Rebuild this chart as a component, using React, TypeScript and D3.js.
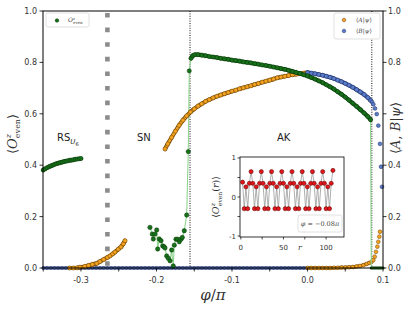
import React from "react";
import * as d3 from "d3";

type P = [number, number];

// ---- main panel data: [phi/pi, value] ----
const greenRS: P[] = [
  [-0.35, 0.381], [-0.3475, 0.386], [-0.345, 0.39], [-0.3425, 0.394], [-0.34, 0.397], [-0.3375, 0.4],
  [-0.335, 0.403], [-0.3325, 0.406], [-0.33, 0.408], [-0.3275, 0.41], [-0.325, 0.412], [-0.3225, 0.414],
  [-0.32, 0.416], [-0.3175, 0.417], [-0.315, 0.419], [-0.3125, 0.42], [-0.31, 0.421], [-0.3075, 0.423],
  [-0.305, 0.424], [-0.3025, 0.425], [-0.3, 0.426],
];
const greenSN: P[] = [
  [-0.2086, 0.158], [-0.2056, 0.132], [-0.2042, 0.113], [-0.202, 0.132], [-0.1997, 0.148], [-0.1984, 0.074],
  [-0.1963, 0.113], [-0.194, 0.106], [-0.1918, 0.086], [-0.19, 0.083], [-0.1887, 0.078], [-0.1865, 0.047],
  [-0.1844, 0.038], [-0.1821, 0.028], [-0.1799, 0.07], [-0.1778, 0.008], [-0.1764, 0.089], [-0.1742, 0.112],
  [-0.172, 0.112], [-0.1698, 0.102], [-0.1675, 0.112], [-0.1658, 0.119], [-0.1632, 0.145], [-0.16, 0.206],
  [-0.1579, 0.453],
];
const greenAK: P[] = [
  [-0.1566, 0.767], [-0.1543, 0.816], [-0.152, 0.826], [-0.149, 0.83], [-0.145, 0.83], [-0.14, 0.828],
  [-0.135, 0.826], [-0.13, 0.823], [-0.125, 0.821], [-0.12, 0.819], [-0.115, 0.816], [-0.11, 0.814],
  [-0.105, 0.812], [-0.1, 0.809], [-0.095, 0.807], [-0.09, 0.805], [-0.085, 0.802], [-0.08, 0.8],
  [-0.075, 0.798], [-0.07, 0.795], [-0.065, 0.793], [-0.06, 0.79], [-0.055, 0.788], [-0.05, 0.785],
  [-0.045, 0.782], [-0.04, 0.779], [-0.035, 0.776], [-0.03, 0.773], [-0.025, 0.769], [-0.02, 0.765],
  [-0.015, 0.761], [-0.01, 0.757], [-0.005, 0.752], [0.0, 0.747], [0.005, 0.741], [0.01, 0.735],
  [0.015, 0.728], [0.02, 0.721], [0.025, 0.713], [0.03, 0.705], [0.035, 0.696], [0.04, 0.686],
  [0.045, 0.676], [0.05, 0.665], [0.055, 0.653], [0.06, 0.641], [0.065, 0.629], [0.07, 0.616],
  [0.075, 0.603], [0.08, 0.589], [0.0835, 0.577],
];
const greenTail: P[] = [
  [0.0845, 0.0], [0.0875, 0.0], [0.09, 0.0], [0.0925, 0.0], [0.095, 0.0], [0.0975, 0.0], [0.1, 0.0],
];

const orangeRS: P[] = [
  [-0.315, 0.0], [-0.31, 0.0], [-0.305, 0.001], [-0.3013, 0.003], [-0.295, 0.006], [-0.29, 0.01],
  [-0.285, 0.014], [-0.279, 0.018], [-0.275, 0.025], [-0.27, 0.033], [-0.265, 0.041], [-0.2616, 0.047],
  [-0.258, 0.055], [-0.255, 0.062], [-0.2506, 0.073], [-0.247, 0.082], [-0.244, 0.094], [-0.2417, 0.106],
];
const orangeAK: P[] = [
  [-0.1887, 0.463], [-0.185, 0.483], [-0.18, 0.508], [-0.175, 0.532], [-0.17, 0.555], [-0.165, 0.575],
  [-0.16, 0.592], [-0.155, 0.607], [-0.15, 0.619], [-0.145, 0.63], [-0.14, 0.639], [-0.135, 0.648],
  [-0.13, 0.655], [-0.125, 0.662], [-0.12, 0.668], [-0.115, 0.673], [-0.11, 0.678], [-0.105, 0.683],
  [-0.1, 0.688], [-0.095, 0.692], [-0.09, 0.697], [-0.085, 0.701], [-0.08, 0.705], [-0.075, 0.709],
  [-0.07, 0.714], [-0.065, 0.718], [-0.06, 0.723], [-0.055, 0.727], [-0.05, 0.731], [-0.045, 0.735],
  [-0.04, 0.74], [-0.035, 0.743], [-0.03, 0.746], [-0.025, 0.749], [-0.02, 0.752], [-0.015, 0.754],
  [-0.01, 0.756], [-0.005, 0.758], [0.0, 0.76],
];
const orangeTail: P[] = [
  [0.0, 0.0], [0.005, 0.0], [0.01, 0.0], [0.015, 0.0], [0.02, 0.0], [0.025, 0.0], [0.03, 0.0],
  [0.035, 0.001], [0.04, 0.001], [0.045, 0.002], [0.05, 0.002], [0.055, 0.003], [0.06, 0.004],
  [0.065, 0.006], [0.0695, 0.008], [0.074, 0.011], [0.0784, 0.016], [0.082, 0.02], [0.085, 0.025],
  [0.0872, 0.031], [0.089, 0.044], [0.0907, 0.063], [0.0925, 0.083], [0.0938, 0.102], [0.0951, 0.122],
  [0.096, 0.141],
];

const blueZero: P[] = [
  [-0.35, 0], [-0.345, 0], [-0.34, 0], [-0.335, 0], [-0.33, 0], [-0.325, 0], [-0.32, 0], [-0.315, 0],
  [-0.31, 0], [-0.305, 0], [-0.3, 0], [-0.295, 0], [-0.29, 0], [-0.285, 0], [-0.28, 0], [-0.275, 0],
  [-0.27, 0], [-0.265, 0], [-0.26, 0], [-0.255, 0], [-0.25, 0], [-0.245, 0], [-0.24, 0], [-0.235, 0],
  [-0.23, 0], [-0.225, 0], [-0.22, 0], [-0.215, 0], [-0.21, 0], [-0.205, 0], [-0.2, 0], [-0.195, 0],
  [-0.19, 0], [-0.185, 0], [-0.18, 0], [-0.175, 0], [-0.17, 0], [-0.165, 0], [-0.16, 0], [-0.155, 0],
  [-0.15, 0], [-0.145, 0], [-0.14, 0], [-0.135, 0], [-0.13, 0], [-0.125, 0], [-0.12, 0], [-0.115, 0],
  [-0.11, 0], [-0.105, 0], [-0.1, 0], [-0.095, 0], [-0.09, 0], [-0.085, 0], [-0.08, 0], [-0.075, 0],
  [-0.07, 0], [-0.065, 0], [-0.06, 0], [-0.055, 0], [-0.05, 0], [-0.045, 0], [-0.04, 0], [-0.035, 0],
  [-0.03, 0], [-0.025, 0], [-0.02, 0], [-0.015, 0], [-0.01, 0], [-0.005, 0], [0.0, 0],
];
const blueAK: P[] = [
  [0.0, 0.76], [0.005, 0.758], [0.01, 0.756], [0.015, 0.753], [0.02, 0.75], [0.025, 0.746],
  [0.03, 0.742], [0.035, 0.737], [0.04, 0.731], [0.045, 0.725], [0.05, 0.718], [0.055, 0.711],
  [0.06, 0.703], [0.065, 0.694], [0.07, 0.685], [0.075, 0.675], [0.08, 0.663], [0.0835, 0.652],
];
const blueTail: P[] = [
  [0.0855, 0.646], [0.0872, 0.637], [0.0894, 0.621], [0.0917, 0.599], [0.0938, 0.554], [0.096, 0.483],
  [0.0974, 0.394], [0.0987, 0.316],
];

// phase boundaries (phi/pi)
const dashedBoundary = -0.265;
const dottedBoundaries = [-0.1556, 0.0852];

// axis ticks
const xTicks = [-0.35, -0.3, -0.25, -0.2, -0.15, -0.1, -0.05, 0.0, 0.05, 0.1];
const xTickLabels = ["-0.3", "-0.2", "-0.1", "0.0", "0.1"];
const xLabelValues = [-0.3, -0.2, -0.1, 0.0, 0.1];
const yTicks = [0, 0.2, 0.4, 0.6, 0.8, 1.0];
const yTickLabels = ["0.0", "0.2", "0.4", "0.6", "0.8", "1.0"];
const yRightTickLabels = ["0.0", "0.2", "0.4", "", "0.8", "1.0"];

// ---- inset data ----
const insetR = [
  2, 4, 6, 8, 10, 12, 14, 16, 18, 20, 22, 24, 26, 28, 30, 32, 34, 36, 38, 40, 42, 44, 46, 48, 50, 52, 54,
  56, 58, 60, 62, 64, 66, 68, 70, 72, 74, 76, 78, 80, 82, 84, 86, 88, 90, 92, 94, 96, 98, 100, 102, 104, 106, 108,
];
const insetVal = [
  0.38, -0.3, 0.26, -0.3, 0.35, 0.65, 0.35, -0.3, 0.26, -0.3, 0.35, 0.65, 0.35, -0.3, 0.26, -0.3, 0.35, 0.65,
  0.35, -0.3, 0.26, -0.3, 0.35, 0.65, 0.35, -0.3, 0.26, -0.3, 0.35, 0.65, 0.35, -0.3, 0.26, -0.3, 0.35, 0.65,
  0.35, -0.3, 0.26, -0.3, 0.35, 0.65, 0.35, -0.3, 0.26, -0.3, 0.35, 0.65, 0.35, -0.3, 0.26, -0.3, 0.35, 0.68,
];
const insetXTicks = [0, 25, 50, 75, 100];
const insetXLabels = ["0", "50", "100"];
const insetXLabelValues = [0, 50, 100];
const insetYTicks = [-1, -0.5, 0, 0.5, 1];
const insetYLabels = ["-1", "0", "1"];
const insetYLabelValues = [-1, 0, 1];

const C = {
  gFill: "#17701a", gEdge: "#0b3b0b", gLight: "#8fd68f",
  oFill: "#f4a321", oEdge: "#6a4100",
  bFill: "#5a7cc9", bEdge: "#1c2c66",
  rFill: "#e0161a", rEdge: "#5a0000",
};

const TICKFONT = "DejaVu Sans, sans-serif";
const SERIF = "DejaVu Serif, serif";

export default function App() {
  const L = 43, R = 383, T = 11, B = 268;
  const x = d3.scaleLinear().domain([-0.3503, 0.1]).range([L, R]);
  const y = d3.scaleLinear().domain([0, 1]).range([B, T]);
  const line = d3.line<P>().x((d) => x(d[0])).y((d) => y(d[1]));

  const iL = 240, iR = 344, iT = 157, iB = 237;
  const ix = d3.scaleLinear().domain([-1, 121]).range([iL, iR]);
  const iy = d3.scaleLinear().domain([-1.025, 1.025]).range([iB, iT]);
  const insetPts: P[] = insetR.map((r, i) => [r, insetVal[i]]);
  const iline = d3.line<P>().x((d) => ix(d[0])).y((d) => iy(d[1]));

  const band = (data: P[], fill: string, edge: string, key: string, w = 4.2) => (
    <g key={key}>
      <path d={line(data) || ""} fill="none" stroke={edge} strokeWidth={w} strokeLinejoin="round" strokeLinecap="round" />
      <path d={line(data) || ""} fill="none" stroke={fill} strokeWidth={w - 1.6} strokeLinejoin="round" strokeLinecap="round" />
    </g>
  );
  const dots = (data: P[], fill: string, edge: string, key: string, r = 2.1) => (
    <g key={key}>
      {data.map((d, i) => (
        <circle key={i} cx={x(d[0])} cy={y(d[1])} r={r} fill={fill} stroke={edge} strokeWidth={0.5} />
      ))}
    </g>
  );

  return (
    <svg width={415} height={312} style={{ position: "absolute", left: 0, top: 0, background: "#fff" }}>
      <rect x={0} y={0} width={415} height={312} fill="#fff" />

      {/* phase boundaries */}
      <line x1={x(dashedBoundary)} x2={x(dashedBoundary)} y1={T + 2} y2={B} stroke="#8c8c8c" strokeWidth={4.6} strokeDasharray="4.6 10" />
      {dottedBoundaries.map((b, i) => (
        <line key={i} x1={x(b)} x2={x(b)} y1={T} y2={B} stroke="#111" strokeWidth={1} strokeDasharray="1 1.4" />
      ))}

      {/* zero baselines */}
      {band(blueZero, C.bFill, C.bEdge, "bz", 3.2)}
      {dots(blueZero, C.bFill, C.bEdge, "bzd", 1.4)}

      {/* orange */}
      {band(orangeRS, C.oFill, C.oEdge, "ors")}
      {dots(orangeRS, C.oFill, C.oEdge, "orsd")}
      {band(orangeTail.slice(0, 18), C.oFill, C.oEdge, "ot", 3.4)}
      {dots(orangeTail, C.oFill, C.oEdge, "otd", 1.9)}

      {/* green light connecting lines */}
      <path d={line(greenSN.concat(greenAK, greenTail)) || ""} fill="none" stroke={C.gLight} strokeWidth={1.1} />

      {band(orangeAK, C.oFill, C.oEdge, "oak")}
      {dots(orangeAK, C.oFill, C.oEdge, "oakd")}

      {band(blueAK, C.bFill, C.bEdge, "bak")}
      {dots(blueAK, C.bFill, C.bEdge, "bakd")}
      {dots(blueTail, C.bFill, C.bEdge, "btd", 1.9)}

      {/* green */}
      {band(greenRS, C.gFill, C.gEdge, "grs")}
      {dots(greenRS, C.gFill, C.gEdge, "grsd")}
      {band(greenAK.slice(1), C.gFill, C.gEdge, "gak")}
      {dots(greenAK, C.gFill, C.gEdge, "gakd")}
      {dots(greenSN, C.gFill, C.gEdge, "gsnd", 2.2)}
      {band(greenTail, C.gFill, C.gEdge, "gt", 3.2)}

      {/* frame */}
      <rect x={L} y={T} width={R - L} height={B - T} fill="none" stroke="#000" strokeWidth={1} />

      {/* x ticks */}
      {xTicks.map((t, i) => (
        <line key={i} x1={x(t)} x2={x(t)} y1={B} y2={B + 3.5} stroke="#000" strokeWidth={0.8} />
      ))}
      {xLabelValues.map((t, i) => (
        <text key={i} x={x(t)} y={283} textAnchor="middle" fontFamily={TICKFONT} fontSize={8} fill="#333">
          {xTickLabels[i]}
        </text>
      ))}
      {/* y ticks left & right */}
      {yTicks.map((t, i) => (
        <g key={i}>
          <line x1={L - 3.5} x2={L} y1={y(t)} y2={y(t)} stroke="#000" strokeWidth={0.8} />
          <line x1={R} x2={R + 3.5} y1={y(t)} y2={y(t)} stroke="#000" strokeWidth={0.8} />
          <text x={L - 6} y={y(t) + 3} textAnchor="end" fontFamily={TICKFONT} fontSize={8} fill="#333">
            {yTickLabels[i]}
          </text>
          <text x={R + 5} y={y(t) + 3} textAnchor="start" fontFamily={TICKFONT} fontSize={8} fill="#333">
            {yRightTickLabels[i]}
          </text>
        </g>
      ))}

      {/* axis labels */}
      <text x={(L + R) / 2} y={300} textAnchor="middle" fontFamily={SERIF} fontSize={15} fill="#333">
        <tspan fontStyle="italic">φ</tspan>/<tspan fontStyle="italic">π</tspan>
      </text>
      <text transform="translate(17,134) rotate(-90)" textAnchor="middle" fontFamily={SERIF} fontSize={13} fill="#333">
        ⟨<tspan fontStyle="italic">O</tspan>
        <tspan fontSize={8} dy={-6} fontStyle="italic">z</tspan>
        <tspan fontSize={8} dx={-4} dy={9}>even</tspan>
        <tspan dy={-3}>⟩</tspan>
      </text>
      <text transform="translate(400,128) rotate(-90)" textAnchor="middle" fontFamily={SERIF} fontSize={13} fill="#333">
        ⟨<tspan fontStyle="italic">A</tspan>, <tspan fontStyle="italic">B</tspan>|<tspan fontStyle="italic">ψ</tspan>⟩
      </text>

      {/* phase labels */}
      <text x={57} y={141} fontFamily={TICKFONT} fontSize={10} fill="#222">
        RS<tspan fontStyle="italic" fontSize={7} dy={3}>U</tspan>
        <tspan fontSize={5} dy={1.5}>6</tspan>
      </text>
      <text x={137} y={141} fontFamily={TICKFONT} fontSize={10} fill="#222">SN</text>
      <text x={277} y={141} fontFamily={TICKFONT} fontSize={10} fill="#222">AK</text>

      {/* left legend */}
      <rect x={46} y={13} width={43} height={14} rx={2} fill="#fff" stroke="#d8d8d8" strokeWidth={0.8} />
      <circle cx={57} cy={20.5} r={1.8} fill={C.gFill} stroke={C.gEdge} strokeWidth={0.5} />
      <text x={68} y={22} fontFamily={SERIF} fontSize={6} fill="#444">
        <tspan fontStyle="italic">O</tspan>
        <tspan fontSize={4} dy={-2.5} fontStyle="italic">z</tspan>
        <tspan fontSize={4} dx={-2} dy={4}>even</tspan>
      </text>

      {/* right legend */}
      <rect x={334} y={13} width={46} height={26} rx={2} fill="#fff" stroke="#d8d8d8" strokeWidth={0.8} />
      <circle cx={344} cy={20} r={1.8} fill={C.oFill} stroke={C.oEdge} strokeWidth={0.5} />
      <circle cx={344} cy={31} r={1.8} fill={C.bFill} stroke={C.bEdge} strokeWidth={0.5} />
      <text x={356} y={22} fontFamily={SERIF} fontSize={6} fill="#444">
        ⟨<tspan fontStyle="italic">A</tspan>|<tspan fontStyle="italic">ψ</tspan>⟩
      </text>
      <text x={356} y={33} fontFamily={SERIF} fontSize={6} fill="#444">
        ⟨<tspan fontStyle="italic">B</tspan>|<tspan fontStyle="italic">ψ</tspan>⟩
      </text>

      {/* inset */}
      <rect x={iL} y={iT} width={iR - iL} height={iB - iT} fill="#fff" stroke="#000" strokeWidth={0.8} />
      <path d={iline(insetPts) || ""} fill="none" stroke="#9a9a9a" strokeWidth={0.8} />
      {insetPts.map((d, i) => (
        <circle key={i} cx={ix(d[0])} cy={iy(d[1])} r={2.1} fill={C.rFill} stroke={C.rEdge} strokeWidth={0.5} />
      ))}
      {insetXTicks.map((t, i) => (
        <line key={i} x1={ix(t)} x2={ix(t)} y1={iB} y2={iB + 2.5} stroke="#000" strokeWidth={0.7} />
      ))}
      {insetXLabelValues.map((t, i) => (
        <text key={i} x={ix(t)} y={250} textAnchor="middle" fontFamily={TICKFONT} fontSize={7} fill="#333">
          {insetXLabels[i]}
        </text>
      ))}
      {insetYTicks.map((t, i) => (
        <line key={i} x1={iL - 2.5} x2={iL} y1={iy(t)} y2={iy(t)} stroke="#000" strokeWidth={0.7} />
      ))}
      {insetYLabelValues.map((t, i) => (
        <text key={i} x={iL - 4} y={iy(t) + 2.5} textAnchor="end" fontFamily={TICKFONT} fontSize={7} fill="#333">
          {insetYLabels[i]}
        </text>
      ))}
      <text x={300} y={250} textAnchor="middle" fontFamily={SERIF} fontSize={8} fontStyle="italic" fill="#333">r</text>
      <text transform="translate(219,197) rotate(-90)" textAnchor="middle" fontFamily={SERIF} fontSize={9.5} fill="#333">
        ⟨<tspan fontStyle="italic">O</tspan>
        <tspan fontSize={6} dy={-4.5} fontStyle="italic">z</tspan>
        <tspan fontSize={6} dx={-3} dy={7}>even</tspan>
        <tspan dy={-2.5}>(</tspan><tspan fontStyle="italic">r</tspan>)⟩
      </text>
      <rect x={298} y={215} width={44} height={17} rx={2} fill="#fff" stroke="#d8d8d8" strokeWidth={0.8} />
      <text x={320} y={226} textAnchor="middle" fontFamily={SERIF} fontSize={6.5} fill="#444">
        <tspan fontStyle="italic">φ</tspan> = −0.08<tspan fontStyle="italic">π</tspan>
      </text>
    </svg>
  );
}
